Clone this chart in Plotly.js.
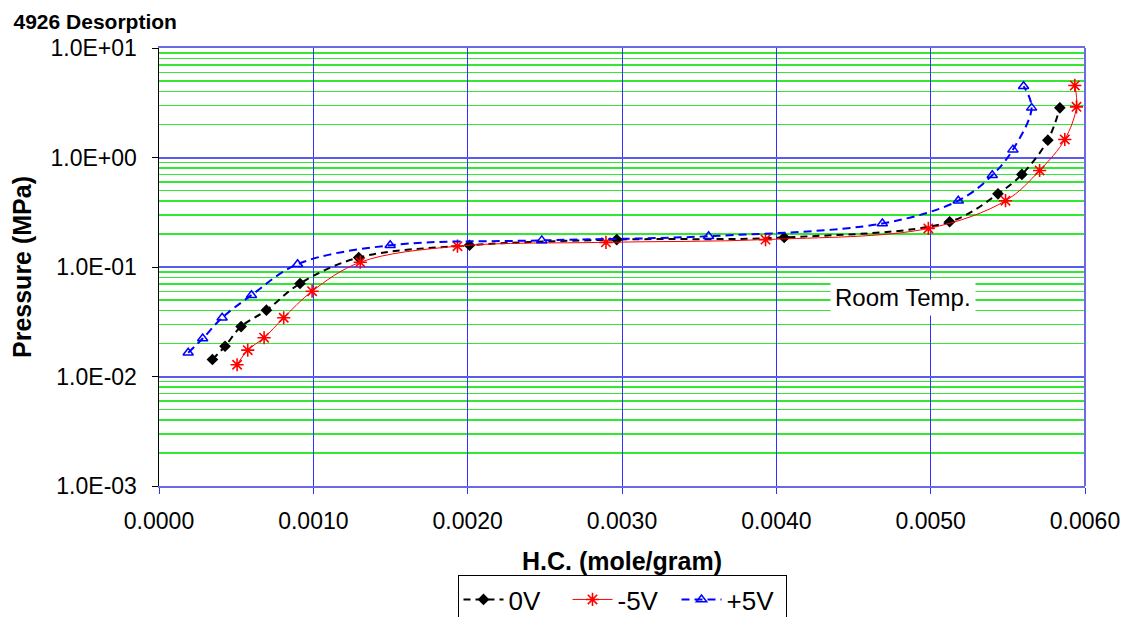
<!DOCTYPE html>
<html>
<head>
<meta charset="utf-8">
<script src="https://cdn.plot.ly/plotly-3.0.1.min.js"></script>
<style>html,body{margin:0;padding:0;background:#fff;}#chart{width:1124px;height:617px;}</style>
</head>
<body>
<div id="chart"></div>
<script>
// Data
const hc0V   = [0.000346, 0.000428, 0.000532, 0.000696, 0.000914, 0.001294, 0.002012, 0.002966, 0.004051, 0.005123, 0.005436, 0.005591, 0.005759, 0.005837];
const p0V    = [0.0143, 0.0189, 0.0286, 0.0403, 0.0707, 0.122, 0.158, 0.178, 0.186, 0.259, 0.466, 0.700, 1.44, 2.84];
const hcM5V  = [0.000506, 0.000575, 0.000681, 0.000808, 0.000992, 0.001304, 0.001934, 0.002896, 0.003930, 0.004985, 0.005485, 0.005706, 0.005869, 0.005945, 0.005934];
const pM5V   = [0.0128, 0.0174, 0.0226, 0.0344, 0.0601, 0.1106, 0.155, 0.168, 0.178, 0.225, 0.403, 0.761, 1.46, 2.90, 4.55];
const hcP5V  = [0.000189, 0.000283, 0.000409, 0.000599, 0.000898, 0.001498, 0.002480, 0.003561, 0.004687, 0.005179, 0.005399, 0.005533, 0.005654, 0.005602];
const pP5V   = [0.01645, 0.0222, 0.0344, 0.0553, 0.106, 0.158, 0.175, 0.191, 0.250, 0.403, 0.689, 1.18, 2.84, 4.48];
const seriesNames = ['0V', '-5V', '+5V'];
const yTickVals  = [0.001, 0.01, 0.1, 1, 10];
const yTickText  = ['1.0E-03', '1.0E-02', '1.0E-01', '1.0E+00', '1.0E+01'];
const chartTitle = '4926 Desorption';
const xTitle = 'H.C. (mole/gram)';
const yTitle = 'Pressure (MPa)';
const noteText = 'Room Temp.';

const FONT = 'Arial, "Liberation Sans", sans-serif';

const traces = [
  {
    x: hc0V, y: p0V, name: seriesNames[0], type: 'scatter', mode: 'lines+markers',
    line: {color: '#000000', width: 2, dash: '7px,5px', shape: 'spline', smoothing: 1},
    marker: {symbol: 'diamond', size: 9, color: '#000000'}
  },
  {
    x: hcM5V, y: pM5V, name: seriesNames[1], type: 'scatter', mode: 'lines+markers',
    line: {color: '#ff0000', width: 1, shape: 'spline', smoothing: 1},
    marker: {symbol: 'asterisk-open', size: 11, color: '#ff0000', line: {color: '#ff0000', width: 1.6}}
  },
  {
    x: hcP5V, y: pP5V, name: seriesNames[2], type: 'scatter', mode: 'lines+markers',
    line: {color: '#0000ff', width: 2, dash: '8px,5px', shape: 'spline', smoothing: 1},
    marker: {symbol: 'triangle-up-open', size: 9, color: '#0000ff', line: {color: '#0000ff', width: 1.5}}
  }
];

const layout = {
  width: 1124, height: 617,
  margin: {l: 158.5, r: 38.5, t: 48, b: 130.5, pad: 0, autoexpand: false},
  paper_bgcolor: '#ffffff', plot_bgcolor: '#ffffff',
  font: {family: FONT, color: '#000000'},
  showlegend: true,
  title: {
    text: '<b>' + chartTitle + '</b>',
    font: {family: FONT, size: 21, color: '#000000'},
    xref: 'container', yref: 'container', x: 0.012, xanchor: 'left', y: 0.965, yanchor: 'middle'
  },
  xaxis: {
    type: 'linear', range: [0, 0.006], dtick: 0.001, tick0: 0, tickformat: '.4f',
    showgrid: true, gridcolor: '#3030ff', gridwidth: 1,
    zeroline: false, showline: true, linecolor: '#6a6ae8', linewidth: 2, mirror: true,
    ticks: 'outside', ticklen: 6, tickcolor: '#3030ff', tickwidth: 1,
    ticklabelstandoff: 7, automargin: false,
    tickfont: {family: FONT, size: 23, color: '#000000'},
    title: {text: '<b>' + xTitle + '</b>', font: {family: FONT, size: 25, color: '#000000'}, standoff: 23}
  },
  yaxis: {
    type: 'log', range: [-3, 1], tickvals: yTickVals, ticktext: yTickText,
    showgrid: true, gridcolor: '#5a5aee', gridwidth: 2,
    minor: {dtick: 'D1', showgrid: true, gridcolor: '#33e833', gridwidth: 1.5, ticks: ''},
    zeroline: false, showline: true, linecolor: '#000000', linewidth: 1.5, mirror: false,
    ticks: 'outside', ticklen: 6, tickcolor: '#000000', tickwidth: 1,
    ticklabelstandoff: 10, automargin: false,
    tickfont: {family: FONT, size: 23, color: '#000000'},
    title: {text: '<b>' + yTitle + '</b>', font: {family: FONT, size: 25, color: '#000000'}, standoff: 12}
  },
  legend: {
    orientation: 'h', xref: 'paper', x: 0.5, xanchor: 'center',
    yref: 'container', y: 0.068, yanchor: 'top',
    bgcolor: '#ffffff', bordercolor: '#000000', borderwidth: 1,
    font: {family: FONT, size: 26, color: '#000000'},
    entrywidth: 54, entrywidthmode: 'pixels', itemwidth: 40
  },
  shapes: [
    {type: 'line', xref: 'paper', yref: 'paper', x0: 1, x1: 1, y0: 0, y1: 1,
     line: {color: '#6a6ae8', width: 2}}
  ],
  annotations: [
    {text: noteText, xref: 'x', yref: 'y', x: 0.00482, y: Math.log10(0.0532), showarrow: false,
     font: {family: FONT, size: 24, color: '#000000'}, bgcolor: '#ffffff', borderpad: 4}
  ]
};

Plotly.newPlot('chart', traces, layout, {displayModeBar: false, staticPlot: true});
</script>
</body>
</html>
